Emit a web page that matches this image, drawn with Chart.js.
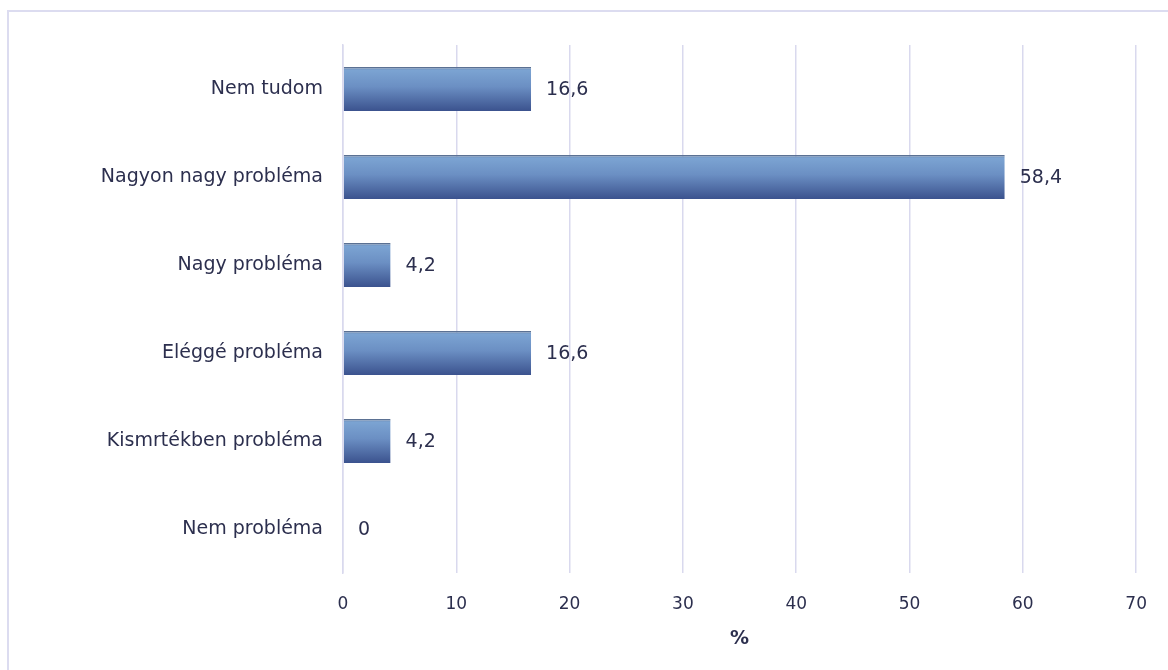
<!DOCTYPE html>
<html>
<head>
<meta charset="utf-8">
<script src="https://cdn.jsdelivr.net/npm/chart.js@4/dist/chart.umd.min.js"></script>
<style>
  html, body { margin: 0; padding: 0; background: #fff; }
  #wrap { position: relative; width: 1168px; height: 670px; overflow: hidden; }
  #frame { position: absolute; left: 7px; top: 10px; width: 1200px; height: 700px;
           border: 2px solid #dcdcf0; box-sizing: border-box; }
  canvas { position: absolute; left: 0; top: 0; }
</style>
</head>
<body>
<div id="wrap">
  <div id="frame"></div>
  <canvas id="myChart" width="1168" height="670"></canvas>
</div>
<script>
// categories, top to bottom as in the picture
const categories = [
  "Nem tudom",
  "Nagyon nagy probléma",
  "Nagy probléma",
  "Eléggé probléma",
  "Kismrtékben probléma",
  "Nem probléma"
];
const percentValues = [16.6, 58.4, 4.2, 16.6, 4.2, 0];
const xTicks = [0, 10, 20, 30, 40, 50, 60, 70];

const textColor = "#2c2f4e";
const fontFamily = "'DejaVu Sans', sans-serif";

// gradient per bar, light on top and dark at the bottom
function barGradient(context) {
  const chart = context.chart;
  const yScale = chart.scales.y;
  if (!yScale || !chart.chartArea) return "#5a7db5";
  const center = yScale.getPixelForValue(context.dataIndex);
  const half = 22;
  const g = chart.ctx.createLinearGradient(0, center - half, 0, center + half);
  g.addColorStop(0, "#6f8fb8");
  g.addColorStop(0.08, "#7ba3d2");
  g.addColorStop(0.45, "#6b8fc3");
  g.addColorStop(1, "#3b528e");
  return g;
}

// draws the value next to each bar
const valueLabels = {
  id: "valueLabels",
  afterDatasetsDraw(chart) {
    const ctx = chart.ctx;
    const meta = chart.getDatasetMeta(0);
    ctx.save();
    ctx.font = "19px " + fontFamily;
    ctx.fillStyle = textColor;
    ctx.textBaseline = "middle";
    ctx.textAlign = "left";
    meta.data.forEach((bar, i) => {
      const label = String(percentValues[i]).replace(".", ",");
      ctx.fillText(label, bar.x + 15, bar.y + 1);
    });
    ctx.restore();
  }
};

const ctx = document.getElementById("myChart").getContext("2d");
new Chart(ctx, {
  type: "bar",
  data: {
    labels: categories,
    datasets: [{
      data: percentValues,
      backgroundColor: barGradient,
      borderColor: "#5b7193",
      borderWidth: { top: 1.5, left: 0, right: 0, bottom: 0 },
      borderSkipped: false,
      barPercentage: 1,
      categoryPercentage: 0.5
    }]
  },
  options: {
    indexAxis: "y",
    responsive: false,
    animation: false,
    layout: { padding: { top: 45, right: 24, left: 0, bottom: 0 } },
    plugins: {
      legend: { display: false },
      tooltip: { enabled: false }
    },
    scales: {
      x: {
        min: 0,
        max: 70,
        afterBuildTicks: (scale) => { scale.ticks = xTicks.map(v => ({ value: v })); },
        afterFit: (scale) => { scale.height = 97; },
        grid: { color: "#d9d9ee", lineWidth: 1.5, drawTicks: false },
        border: { display: false },
        ticks: {
          color: textColor,
          font: { family: fontFamily, size: 17 },
          padding: 21
        },
        title: {
          display: true,
          text: "%",
          color: textColor,
          font: { family: fontFamily, size: 19, weight: "bold" },
          padding: { top: 0, bottom: 20 }
        }
      },
      y: {
        afterFit: (scale) => { scale.width = 343; },
        grid: { display: false, drawTicks: false },
        border: { display: true, color: "#d9d9ee", width: 1.5 },
        ticks: {
          color: textColor,
          font: { family: fontFamily, size: 19 },
          padding: 20
        }
      }
    }
  },
  plugins: [valueLabels]
});
</script>
</body>
</html>
